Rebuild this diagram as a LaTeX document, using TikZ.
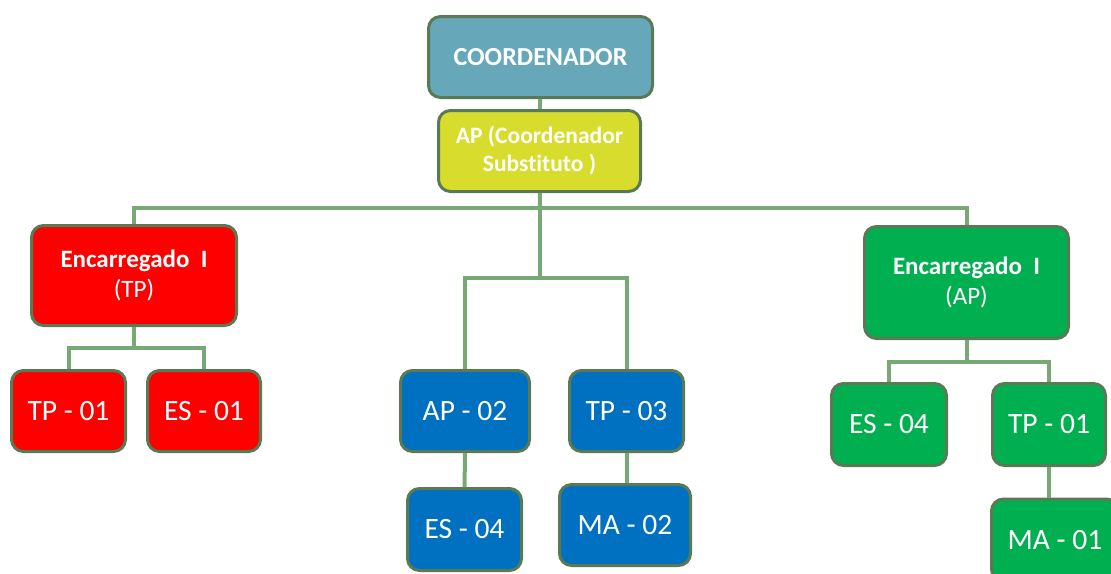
\documentclass[tikz,border=0pt]{standalone}
\usepackage{fontspec}
\setmainfont{Carlito}[Ligatures=NoCommon]
\definecolor{boxline}{RGB}{90,122,86}
\definecolor{linkgreen}{RGB}{120,168,118}
\definecolor{coordteal}{RGB}{102,167,186}
\definecolor{subyellow}{RGB}{216,220,44}
\definecolor{tpred}{RGB}{255,0,0}
\definecolor{apblue}{RGB}{0,112,192}
\definecolor{apgreen}{RGB}{0,176,80}

\begin{document}
\begin{tikzpicture}[x=1pt, y=-1pt,
  box/.style={draw=boxline, line width=3pt, rounded corners=12pt, text=white,
    align=center, inner sep=0pt, minimum width=114pt, minimum height=81pt,
    font=\fontsize{29.5}{34}\selectfont},
  head/.style={box, font=\fontsize{25}{30}\selectfont},
  link/.style={draw=linkgreen, line width=4pt}]
  \useasboundingbox (0,0) rectangle (1111,573);
  \clip (0,0) rectangle (1111,573);

  % top
  \node[head, fill=coordteal, minimum width=224pt, font=\fontsize{26}{30}\selectfont] (coord) at (540.5,57) {\bfseries COORDENADOR};
  \node[head, fill=subyellow, minimum width=202pt, font=\fontsize{23.5}{28}\selectfont] (ap) at (539.5,151) {\bfseries AP (Coordenador\\\bfseries Substituto )};

  % encarregados
  \node[head, fill=tpred, minimum width=205pt, minimum height=100pt] (encTP) at (134,275.5) {\bfseries Encarregado~ I\\(TP)};
  \node[head, fill=apgreen, minimum width=204pt, minimum height=112pt] (encAP) at (966.5,282.5) {\bfseries Encarregado~ I\\(AP)};

  % red team
  \node[box, fill=tpred] (tpR) at (68.5,411) {TP - 01};
  \node[box, fill=tpred, minimum width=113pt] (esR) at (204,411) {ES - 01};

  % blue team
  \node[box, fill=apblue, minimum width=129pt] (apB) at (465,411) {AP - 02};
  \node[box, fill=apblue] (tpB) at (626.5,411) {TP - 03};
  \node[box, fill=apblue, minimum height=82pt] (esB) at (464.5,529.5) {ES - 04};
  \node[box, fill=apblue, minimum width=131pt] (maB) at (625,525) {MA - 02};

  % green team
  \node[box, fill=apgreen, minimum width=115pt, minimum height=82pt] (esG) at (889,424.5) {ES - 04};
  \node[box, fill=apgreen, minimum width=113pt, minimum height=82pt] (tpG) at (1049,424.5) {TP - 01};
  \node[box, fill=apgreen, minimum width=127pt, minimum height=82pt] (maG) at (1055,540) {MA - 01};

  % connectors
  \coordinate (busTop) at (540,208);
  \coordinate (busMid) at (540,278);
  \coordinate (busRed) at (134,348);
  \coordinate (busGreen) at (966.5,362);
  \draw[link] (coord) -- (ap);
  \draw[link] (ap) -- (busTop);
  \draw[link] (encTP.north) |- (busTop) -| (encAP.north);
  \draw[link] (busTop) -- (busMid);
  \draw[link] (apB.north) |- (busMid) -| (tpB.north);
  \draw[link] (encTP) -- (busRed);
  \draw[link] (tpR.north) |- (busRed) -| (esR.north);
  \draw[link] (encAP) -- (busGreen);
  \draw[link] (esG.north) |- (busGreen) -| (tpG.north);
  \draw[link] (apB) -- (esB);
  \draw[link] (tpB.south) -- (tpB.south |- maB.north);
  \draw[link] (tpG.south) -- (tpG.south |- maG.north);
\end{tikzpicture}
\end{document}
